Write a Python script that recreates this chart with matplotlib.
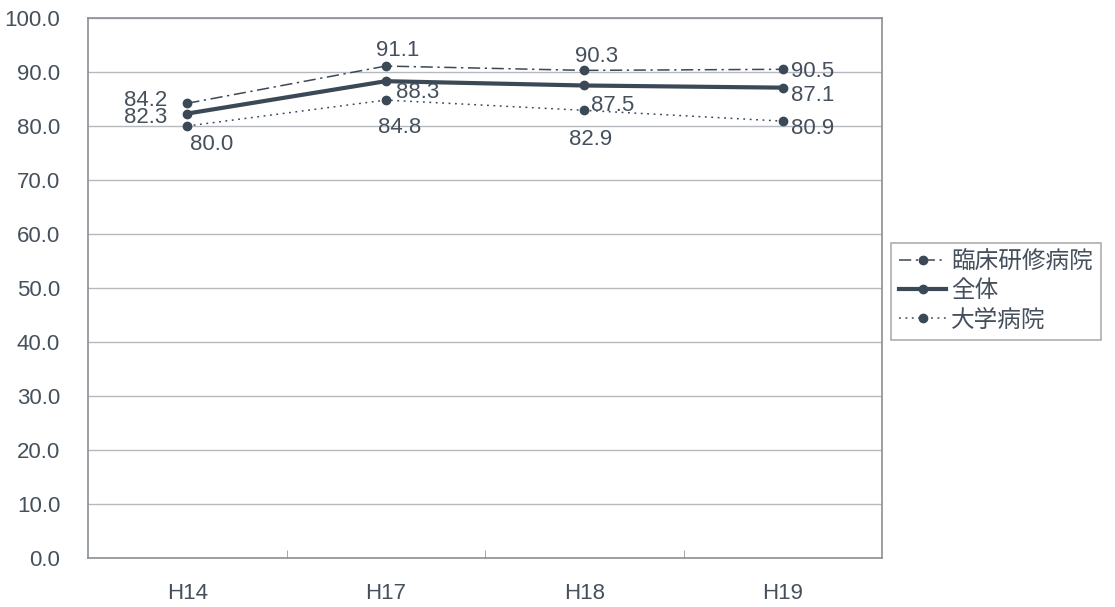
import matplotlib
matplotlib.use("Agg")
import matplotlib.pyplot as plt
import numpy as np

plt.rcParams['font.family'] = ['Liberation Sans', 'Noto Sans CJK JP', 'DejaVu Sans']

years = ["H14", "H17", "H18", "H19"]
rinsho = [84.2, 91.1, 90.3, 90.5]
zentai = [82.3, 88.3, 87.5, 87.1]
daigaku = [80.0, 84.8, 82.9, 80.9]
names = ["臨床研修病院", "全体", "大学病院"]

# label offsets in pixels, per point
off_rinsho = [(-42, 3), (12, 16), (12, 14), (30, -2)]
off_zentai = [(-42, -4), (32, -11), (28, -20), (30, -8)]
off_daigaku = [(24, -18), (14, -27), (6, -29), (30, -7)]

col = "#3b4856"
txt = "#45505c"

fig = plt.figure(figsize=(11.15, 6.07), dpi=100)
ax = fig.add_axes([88/1115, 49/607, 794/1115, 540/607])

x = np.arange(len(years))
l1, = ax.plot(x, rinsho, color=col, lw=1.1, ls=(0, (8, 3, 1.5, 3)), marker='o', ms=6)
l2, = ax.plot(x, zentai, color=col, lw=3, ls='-', marker='o', ms=6)
l3, = ax.plot(x, daigaku, color=col, lw=1.1, ls=(0, (1.2, 3)), marker='o', ms=6)

for vals, offs in [(rinsho, off_rinsho), (zentai, off_zentai), (daigaku, off_daigaku)]:
    for xi, v, o in zip(x, vals, offs):
        ax.annotate(f"{v:.1f}", (xi, v), xytext=o, textcoords='offset pixels',
                    ha='center', va='center', fontsize=16, color=txt)

ax.set_xlim(-0.5, 3.5)
ax.set_ylim(0, 100)
ax.set_yticks(np.arange(0, 101, 10))
ax.set_yticklabels([f"{v:.1f}" for v in np.arange(0, 101, 10)])
ax.set_xticks(x)
ax.set_xticklabels(years)
ax.set_xticks([0.5, 1.5, 2.5], minor=True)
ax.tick_params(axis='x', which='major', length=0, pad=18, labelsize=16, colors=txt)
ax.tick_params(axis='x', which='minor', length=6, direction='in', color='#999999')
ax.tick_params(axis='y', length=0, pad=20, labelsize=16, colors=txt)
ax.grid(axis='y', color='#b5b9bd', lw=1)
ax.set_axisbelow(True)
for s in ax.spines.values():
    s.set_color('#8a9096')
    s.set_linewidth(1.2)

leg = fig.legend([l1, l2, l3], names, loc='upper left', bbox_to_anchor=(891/1115, 1 - 243/607),
                 fontsize=17, frameon=True, fancybox=False, edgecolor='#999999',
                 handlelength=2.0, handletextpad=0.2, borderpad=0.35, borderaxespad=0,
                 labelspacing=0.3, labelcolor=txt)
leg.get_frame().set_linewidth(1.2)

fig.savefig("out.png", dpi=100)
